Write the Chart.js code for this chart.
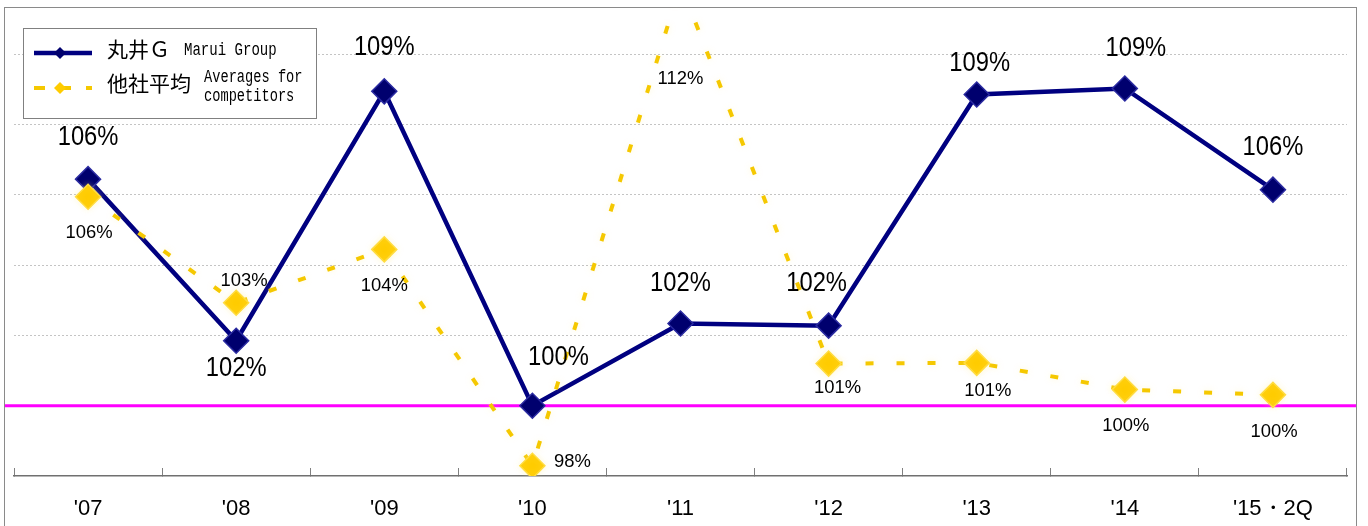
<!DOCTYPE html>
<html>
<head>
<meta charset="utf-8">
<script src="https://cdn.jsdelivr.net/npm/chart.js@4.4.1/dist/chart.umd.min.js"></script>
<style>
  html, body { margin: 0; padding: 0; background: #fff; overflow: hidden; }
  #wrap { position: relative; width: 1368px; height: 526px; overflow: hidden; }
  #frame { position: absolute; left: 4px; top: 7px; width: 1353px; height: 600px; border: 1.5px solid #8a8a8a; box-sizing: border-box; }
  canvas { position: absolute; left: 0; top: 0; }
</style>
</head>
<body>
<div id="wrap">
  <div id="frame"></div>
  <canvas id="chart" width="1368" height="526"></canvas>
</div>
<script>
// --- Data ---
const years = ["'07", "'08", "'09", "'10", "'11", "'12", "'13", "'14", "'15・2Q"];
const maruiGroup = [106.45, 101.85, 108.95, 100.0, 102.34, 102.28, 108.86, 109.03, 106.15];
const competitorsAvg = [105.95, 102.93, 104.45, 98.29, 112.0, 101.2, 101.22, 100.46, 100.31];
const seriesNamesJa = ['丸井Ｇ', '他社平均'];
const seriesNamesEn = [['Marui Group'], ['Averages for', 'competitors']];
const yMin = 98;
const yMax = 111.35;
const yStep = 2;
const baseLine = 100;

// label placement relative to each point (dx, dy)
const maruiLabelOffsets = [[0, -42], [0, 28], [0, -44], [26, -48], [0, -40], [-12, -42], [3, -31], [11, -40], [0, -42]];
const competitorLabelOffsets = [[1, 36], [8, -22], [0, 36], [40, -4], [0, 95], [9, 24], [11, 28], [1, 36], [1, 37]];

const NAVY = '#000080';
const GOLD = '#f5c800';

function drawText(c, text, x, y, size, family, sx, align) {
    c.save();
    c.translate(x, y);
    c.scale(sx, 1);
    c.font = size + 'px ' + family;
    c.textAlign = align || 'center';
    c.textBaseline = 'middle';
    c.fillStyle = '#000';
    c.fillText(text, 0, 0);
    c.restore();
}

// faint glow under the dashed series
const glowPlugin = {
    id: 'glow',
    beforeDatasetDraw(chart, args) {
        if (args.index !== 1) return;
        chart.ctx.save();
        chart.ctx.shadowColor = 'rgba(255, 235, 140, 0.35)';
        chart.ctx.shadowBlur = 6;
    },
    afterDatasetDraw(chart, args) {
        if (args.index === 1) chart.ctx.restore();
    }
};

// magenta 100% line across the whole frame
const baseLinePlugin = {
    id: 'baseLine',
    beforeDatasetsDraw(chart) {
        const c = chart.ctx;
        const y = chart.scales.y.getPixelForValue(baseLine);
        c.save();
        c.strokeStyle = '#ff00ff';
        c.lineWidth = 3;
        c.beginPath();
        c.moveTo(5, y);
        c.lineTo(1356, y);
        c.stroke();
        c.restore();
    }
};

const valueLabelPlugin = {
    id: 'valueLabels',
    afterDatasetsDraw(chart) {
        const c = chart.ctx;
        chart.getDatasetMeta(0).data.forEach((pt, i) => {
            const off = maruiLabelOffsets[i];
            drawText(c, Math.round(maruiGroup[i]) + '%', pt.x + off[0], pt.y + off[1], 27, '"Liberation Sans", Arial, sans-serif', 0.88);
        });
        chart.getDatasetMeta(1).data.forEach((pt, i) => {
            const off = competitorLabelOffsets[i];
            drawText(c, Math.round(competitorsAvg[i]) + '%', pt.x + off[0], pt.y + off[1], 19, '"Liberation Sans", Arial, sans-serif', 0.97);
        });
    }
};

const legendPlugin = {
    id: 'boxLegend',
    afterDraw(chart) {
        const c = chart.ctx;
        c.save();
        c.fillStyle = '#fff';
        c.fillRect(23, 28, 293, 90);
        c.strokeStyle = '#808080';
        c.lineWidth = 1;
        c.strokeRect(23.5, 28.5, 293, 90);

        // marui sample
        c.strokeStyle = NAVY;
        c.lineWidth = 4.5;
        c.beginPath();
        c.moveTo(34, 53);
        c.lineTo(92, 53);
        c.stroke();
        c.fillStyle = '#00006e';
        c.beginPath();
        c.moveTo(60, 47); c.lineTo(66, 53); c.lineTo(60, 59); c.lineTo(54, 53);
        c.closePath();
        c.fill();

        // competitors sample
        c.strokeStyle = GOLD;
        c.lineWidth = 4;
        c.setLineDash([11, 15]);
        c.beginPath();
        c.moveTo(34, 88);
        c.lineTo(92, 88);
        c.stroke();
        c.setLineDash([]);
        c.fillStyle = '#ffcc00';
        c.beginPath();
        c.moveTo(60, 82); c.lineTo(66, 88); c.lineTo(60, 94); c.lineTo(54, 88);
        c.closePath();
        c.fill();
        c.restore();

        const ja = '"Noto Sans CJK JP", sans-serif';
        const mono = '"Liberation Mono", "DejaVu Sans Mono", monospace';
        drawText(c, seriesNamesJa[0], 107, 49, 21, ja, 1, 'left');
        drawText(c, seriesNamesEn[0][0], 184, 50, 18, mono, 0.78, 'left');
        drawText(c, seriesNamesJa[1], 107, 83, 21, ja, 1, 'left');
        drawText(c, seriesNamesEn[1][0], 204, 77, 18, mono, 0.76, 'left');
        drawText(c, seriesNamesEn[1][1], 204, 96, 18, mono, 0.76, 'left');
    }
};

const ctx = document.getElementById('chart').getContext('2d');
new Chart(ctx, {
    type: 'line',
    data: {
        labels: years,
        datasets: [{
            label: seriesNamesJa[0],
            data: maruiGroup,
            borderColor: NAVY,
            borderWidth: 4.5,
            pointStyle: 'rectRot',
            pointRadius: 12.5,
            pointBackgroundColor: '#00006e',
            pointBorderColor: '#2a2aa0',
            pointBorderWidth: 1.5,
            tension: 0,
            order: 1
        }, {
            label: seriesNamesJa[1],
            data: competitorsAvg,
            borderColor: GOLD,
            borderWidth: 4,
            borderDash: [8, 23],
            pointStyle: 'rectRot',
            pointRadius: 12.5,
            pointBackgroundColor: '#ffcc00',
            pointBorderColor: '#ffdc40',
            pointBorderWidth: 1.5,
            tension: 0,
            order: 0
        }]
    },
    options: {
        responsive: false,
        animation: false,
        layout: { autoPadding: false, padding: { left: 14, right: 21, top: 7, bottom: 0 } },
        plugins: {
            legend: { display: false },
            tooltip: { enabled: false }
        },
        scales: {
            x: {
                offset: true,
                grid: { offset: true, drawOnChartArea: false, drawTicks: true, tickLength: -8, color: '#808080', lineWidth: 1 },
                border: { color: '#707070', width: 1.5 },
                ticks: { color: '#000', font: { family: '"Liberation Sans", Arial, sans-serif', size: 22 }, padding: 28, maxRotation: 0 },
                afterFit: s => { s.height = 50; }
            },
            y: {
                min: yMin,
                max: yMax,
                ticks: { display: false, stepSize: yStep, includeBounds: false },
                grid: {
                    drawTicks: false,
                    lineWidth: 1,
                    color: c => (c.tick.value === yMin || c.tick.value === baseLine) ? 'rgba(0,0,0,0)' : '#c4c4c4'
                },
                border: { display: false, dash: [2, 2] },
                afterFit: s => { s.width = 0; }
            }
        }
    },
    plugins: [glowPlugin, baseLinePlugin, valueLabelPlugin, legendPlugin]
});
</script>
</body>
</html>
